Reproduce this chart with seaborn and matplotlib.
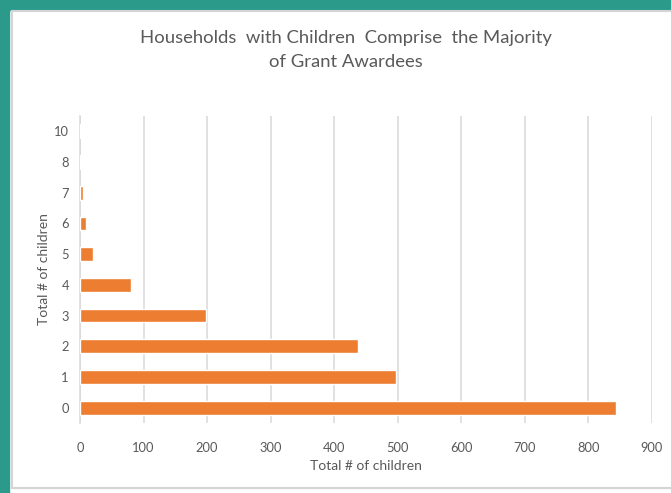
import matplotlib
matplotlib.use("Agg")
import matplotlib.pyplot as plt
from matplotlib.patches import Rectangle
import seaborn as sns
import pandas as pd

categories = ["10", "8", "7", "6", "5", "4", "3", "2", "1", "0"]
counts = [2, 2, 4, 9, 20, 81, 198, 437, 497, 843]
x_ticks = [0, 100, 200, 300, 400, 500, 600, 700, 800, 900]

title = "Households  with Children  Comprise  the Majority\nof Grant Awardees"
x_label = "Total # of children"
y_label = "Total # of children"

sns.set_theme(style="white")
plt.rcParams['font.family'] = ['Lato', 'DejaVu Sans']

df = pd.DataFrame({"children": categories, "count": counts})

fig = plt.figure(figsize=(6.71, 4.93), dpi=100)
fig.patch.set_facecolor("white")

# teal frame and gray inner panel border
fig.patches.append(Rectangle((0, 0), 9/671, 1, transform=fig.transFigure, color="#2b9a8b", zorder=-2))
fig.patches.append(Rectangle((0, 1 - 10/493), 1, 10/493, transform=fig.transFigure, color="#2b9a8b", zorder=-2))
fig.patches.append(Rectangle((12/671, 5/493), 1.0, 1 - 16/493, transform=fig.transFigure,
                             facecolor="white", edgecolor="#d4d4d4", linewidth=1.5, zorder=-1))

ax = fig.add_axes([80/671, 70/493, 572/671, 307/493])
ax.set_zorder(2)
ax.set_facecolor("none")
sns.barplot(data=df, x="count", y="children", order=categories, orient="h",
            color="#ED7D31", width=0.45, saturation=1, ax=ax, zorder=3)

ax.set_xlim(0, 900)
ax.set_xticks(x_ticks)
ax.set_xticklabels([str(t) for t in x_ticks])
ax.xaxis.grid(True, color="#d9d9d9", linewidth=1.1, zorder=0)
ax.yaxis.grid(False)
for s in ["top", "right", "bottom"]:
    ax.spines[s].set_visible(False)
ax.spines["left"].set_color("#d9d9d9")
ax.spines["left"].set_linewidth(1.1)
ax.spines["left"].set_zorder(1)
ax.tick_params(axis="both", length=0, labelsize=9.3, labelcolor="#595959")
ax.tick_params(axis="x", pad=14)
ax.tick_params(axis="y", pad=8)
ax.set_xlabel(x_label, fontsize=10, color="#595959", labelpad=4)
ax.set_ylabel(y_label, fontsize=10, color="#595959", labelpad=3)

fig.text(0.516, 1 - 50/493, title, ha="center", va="center", fontsize=13.3,
         color="#595959", linespacing=1.55)

fig.savefig("out.png", dpi=100)
